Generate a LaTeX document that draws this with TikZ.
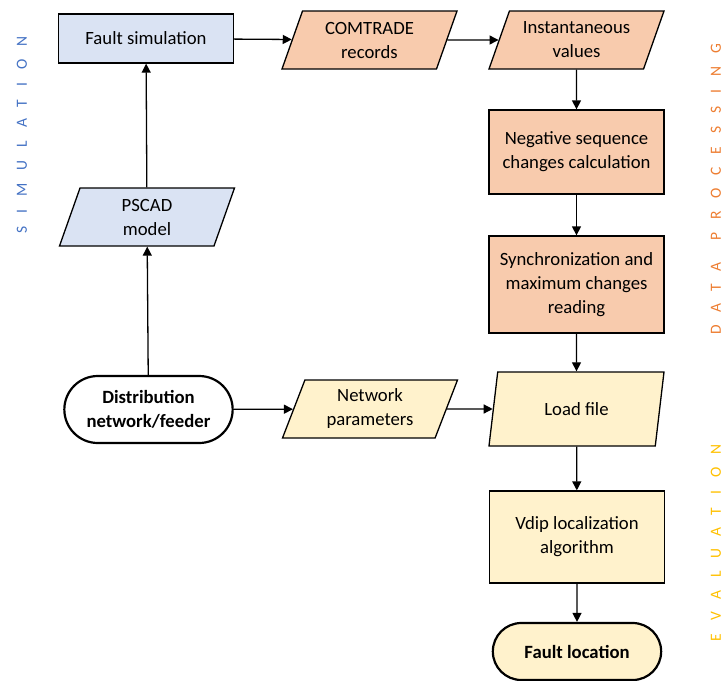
\documentclass[tikz,border=0pt]{standalone}
\usepackage{fontspec}
\setmainfont{Carlito}
\usetikzlibrary{shapes.geometric,shapes.misc,arrows.meta}
\definecolor{simFill}{HTML}{DAE3F3}
\definecolor{procFill}{HTML}{F8CBAD}
\definecolor{evalFill}{HTML}{FFF2CC}
\definecolor{simText}{HTML}{4472C4}
\definecolor{procText}{HTML}{ED7D31}
\definecolor{evalText}{HTML}{FFC000}
\tikzset{
boxstyle/.style={rectangle, draw, line width=1.3pt, minimum width=175pt, align=center, inner sep=2pt},
datastyle/.style={trapezium, trapezium left angle=63, trapezium right angle=117, trapezium stretches body, draw, line width=1.3pt, minimum width=175pt, minimum height=58pt, align=center, inner sep=2pt},
termstyle/.style={rounded rectangle, draw, line width=2.2pt, minimum width=175pt, align=center, font=\fontsize{18.7}{24}\selectfont\bfseries},
phasestyle/.style={rotate=90, inner sep=0pt, font=\fontsize{15.5}{18}\selectfont\addfontfeature{LetterSpace=84}},
flow/.style={line width=1.3pt, -{Triangle[length=9pt, width=9pt]}}
}
\begin{document}
\begin{tikzpicture}[x=1pt, y=-1pt, font=\fontsize{18.7}{24}\selectfont]
\useasboundingbox (0,0) rectangle (724,681);

\node [boxstyle, fill=simFill, minimum height=49pt] (faultsim) at (146, 38.5) {Fault simulation};
\node [datastyle, fill=simFill] (pscad) at (147, 217) {PSCAD\\model};
\node [termstyle, minimum height=67pt] (feeder) at (148.5, 409.5) {Distribution\\network/feeder};

\node [datastyle, fill=procFill] (comtrade) at (369.5, 40) {COMTRADE\\records};
\node [datastyle, fill=procFill] (instant) at (576.5, 40) {Instantaneous\\values};
\node [boxstyle, fill=procFill, minimum height=84pt] (negseq) at (576.5, 152) {Negative sequence\\changes calculation};
\node [boxstyle, fill=procFill, minimum height=97pt] (sync) at (576.5, 284.5) {Synchronization and\\maximum changes\\reading};

\node [datastyle, fill=evalFill] (netpar) at (370, 409) {Network\\parameters};
\node [datastyle, fill=evalFill, minimum height=74pt] (loadfile) at (576.5, 409) {Load file};
\node [boxstyle, fill=evalFill, minimum height=92pt] (vdip) at (577, 537) {Vdip localization\\algorithm};
\node [termstyle, fill=evalFill, minimum height=57pt] (faultloc) at (577, 651.5) {Fault location};

\node [phasestyle, text=simText] (simlabel) at (22, 135) {SIMULATION};
\node [phasestyle, text=procText] (proclabel) at (716, 189) {DATA\hspace{22pt}PROCESSING};
\node [phasestyle, text=evalText] (evallabel) at (716, 543) {EVALUATION};

\draw [flow] (feeder) -- (pscad);
\draw [flow] (pscad) -- (faultsim);
\draw [flow] (faultsim) -- (comtrade);
\draw [flow] (comtrade) -- (instant);
\draw [flow] (instant) -- (negseq);
\draw [flow] (negseq) -- (sync);
\draw [flow] (sync) -- (loadfile);
\draw [flow] (feeder) -- (netpar);
\draw [flow] (netpar) -- (loadfile);
\draw [flow] (loadfile) -- (vdip);
\draw [flow] (vdip) -- (faultloc);
\end{tikzpicture}
\end{document}
